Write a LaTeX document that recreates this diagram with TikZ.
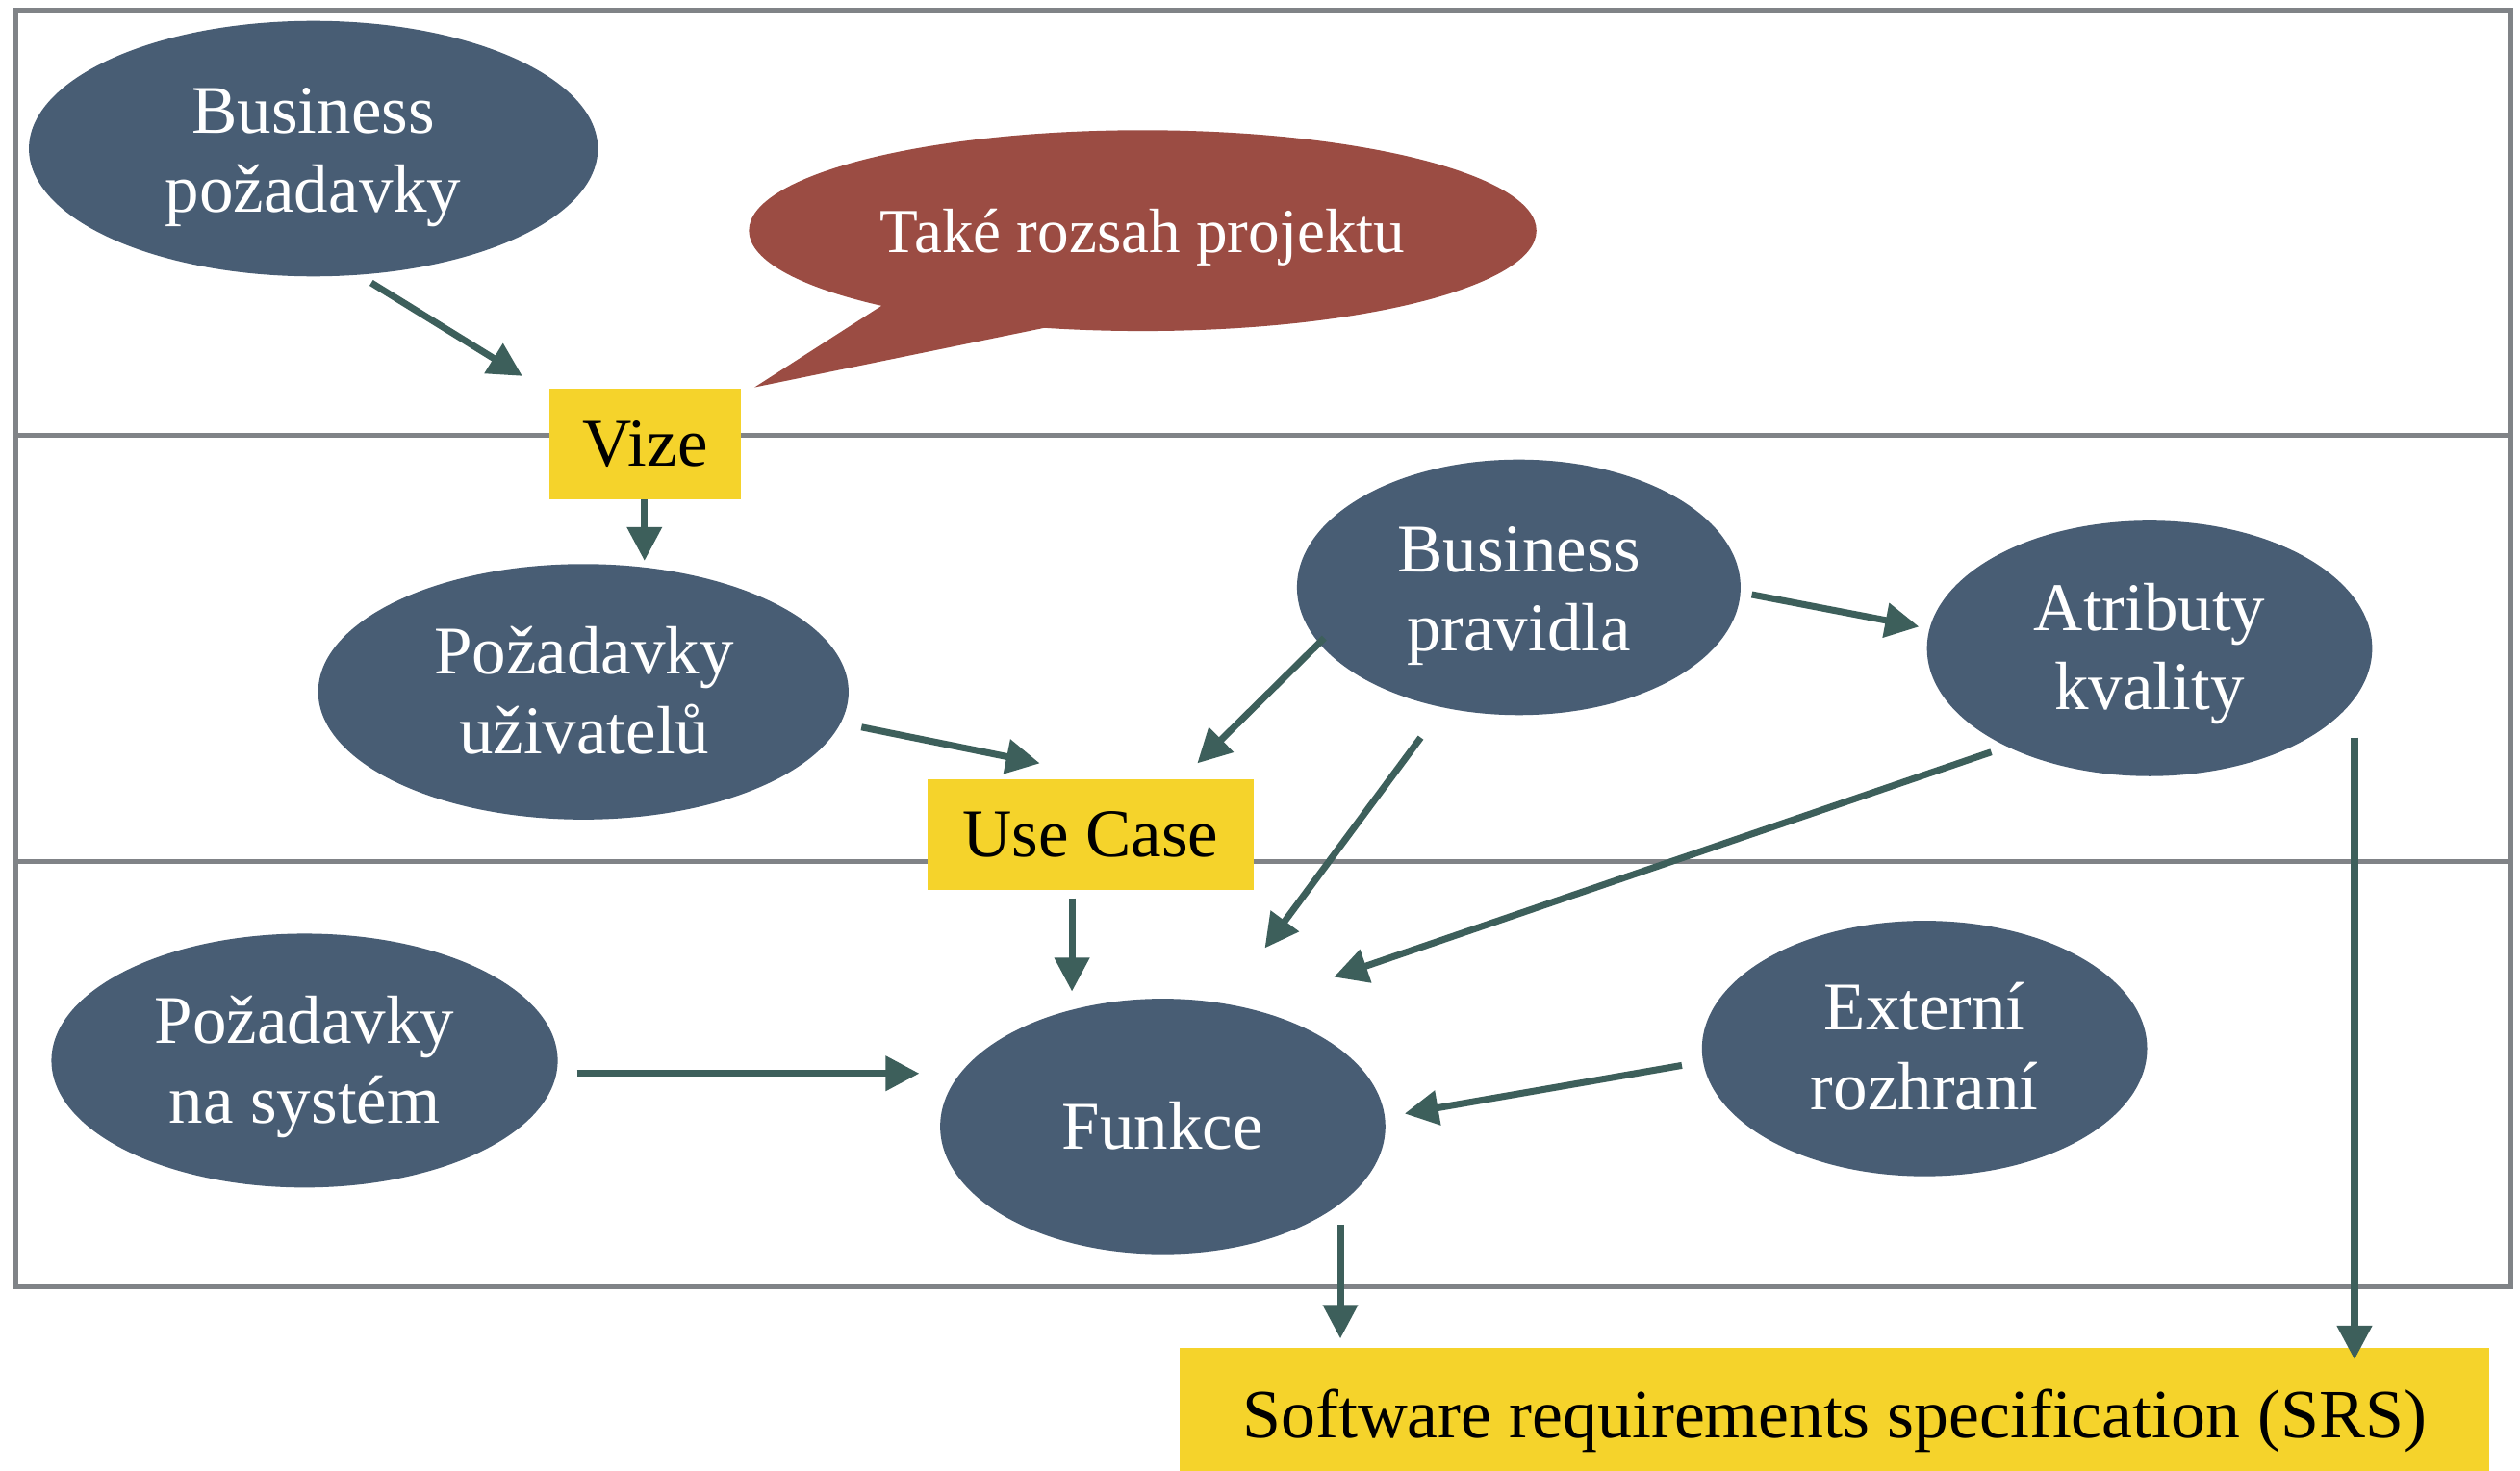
\documentclass[tikz,border=0pt]{standalone}
\usepackage{fontspec}
\setmainfont{Liberation Serif}
\usetikzlibrary{shapes.geometric,arrows.meta,calc}

\definecolor{slate}{RGB}{72,93,116}
\definecolor{brick}{RGB}{155,76,67}
\definecolor{gold}{RGB}{245,211,43}
\definecolor{rulegray}{RGB}{128,131,135}
\definecolor{flowteal}{RGB}{61,95,91}

\begin{document}
\begin{tikzpicture}[x=1pt,y=-1pt,
  blob/.style={ellipse, fill=slate, inner sep=0pt, minimum width=277pt, minimum height=159pt},
  blobtext/.style={text=white, align=center, inner sep=0pt,
    font=\fontsize{42.5}{49.5}\selectfont},
  tag/.style={rectangle, fill=gold, inner sep=0pt, text=black,
    font=\fontsize{42.5}{49.5}\selectfont},
  flow/.style={draw=flowteal, line width=4.2pt, -{Triangle[length=21pt,width=21pt]}},
  lane/.style={draw=rulegray, line width=3pt}]

\clip (0,0) rectangle (1568,915);
\fill[white] (0,0) rectangle (1568,915);

% swimlane frame
\draw[lane] (10,6) rectangle (1562.5,801);
\draw[lane] (10,271) -- (1562.5,271);
\draw[lane] (10,536) -- (1562.5,536);

% ellipses
\node[blob, minimum width=354pt] (bpoz) at (195,92.5) {};
\node[blobtext] (bpozT) at (195,97.9) {Business\\požadavky};

\node[ellipse, fill=brick, inner sep=0pt, minimum width=490pt, minimum height=125pt] (callout) at (711,143.5) {};
\fill[brick] ($(callout.center)+(-162,46.5)$) -- ($(callout.center)+(-241.5,97.5)$)
  -- ($(callout.center)+(-61,60.5)$) -- ($(callout.center)+(-100,20)$) -- cycle;
\node[text=white, inner sep=0pt, font=\fontsize{39}{46}\selectfont] (calloutT) at (711,148) {Také rozsah projektu};

\node[blob, minimum width=330pt] (puz) at (363,430.5) {};
\node[blobtext] (puzT) at (363.5,429.8) {Požadavky\\uživatelů};

\node[blob, minimum width=276pt] (bprav) at (945,365.5) {};
\node[blobtext] (bpravT) at (945,370.9) {Business\\pravidla};

\node[blob] (atr) at (1337.5,403.5) {};
\node[blobtext] (atrT) at (1337.5,406.9) {Atributy\\kvality};

\node[blob, minimum width=315pt, minimum height=158pt] (pns) at (189.5,660) {};
\node[blobtext] (pnsT) at (189.5,663.9) {Požadavky\\na systém};

\node[blob] (funk) at (723.5,701) {};
\node[blobtext] (funkT) at (723.5,700.5) {Funkce};

\node[blob] (ext) at (1197.5,652.5) {};
\node[blobtext] (extT) at (1197.5,651.3) {Externí\\rozhraní};

% yellow boxes
\node[tag, minimum width=119pt, minimum height=69pt] (vize) at (401.5,276.5) {Vize};
\node[tag, minimum width=203pt, minimum height=69pt] (uc) at (678.5,519.5) {Use Case};
\node[tag, minimum width=815pt, minimum height=90pt, font=\fontsize{43}{50}\selectfont] (srs) at (1141.5,884) {Software requirements specification (SRS)};

% connectors
\draw[flow] ($(bpoz.center)+(36,83.5)$) -- ($(vize.center)+(-76.5,-42.5)$);
\draw[flow] ($(vize.center)+(-0.5,34.5)$) -- ($(puz.center)+(38,-81.5)$);
\draw[flow] ($(puz.center)+(173,22)$) -- ($(uc.center)+(-31.5,-44.5)$);
\draw[flow] ($(bprav.center)+(-121,31.5)$) -- ($(uc.center)+(66.5,-44.5)$);
\draw[flow] ($(bprav.center)+(-61,93.5)$) -- ($(funk.center)+(63.5,-111)$);
\draw[flow] ($(uc.center)+(-11.5,39.5)$) -- ($(funk.center)+(-56.5,-84)$);
\draw[flow] ($(atr.center)+(-98.5,64.5)$) -- ($(funk.center)+(106.5,-93)$);
\draw[flow] ($(bprav.center)+(145,4.5)$) -- ($(atr.center)+(-143.5,-13.5)$);
\draw[flow] ($(atr.center)+(127.5,55.5)$) -- ($(srs.center)+(323.5,-38)$);
\draw[flow] ($(funk.center)+(110.5,61)$) -- ($(srs.center)+(-307.5,-51)$);
\draw[flow] ($(pns.center)+(169.5,8)$) -- ($(funk.center)+(-151.5,-33)$);
\draw[flow] ($(ext.center)+(-151,10.5)$) -- ($(funk.center)+(150.5,-8)$);
\end{tikzpicture}
\end{document}
